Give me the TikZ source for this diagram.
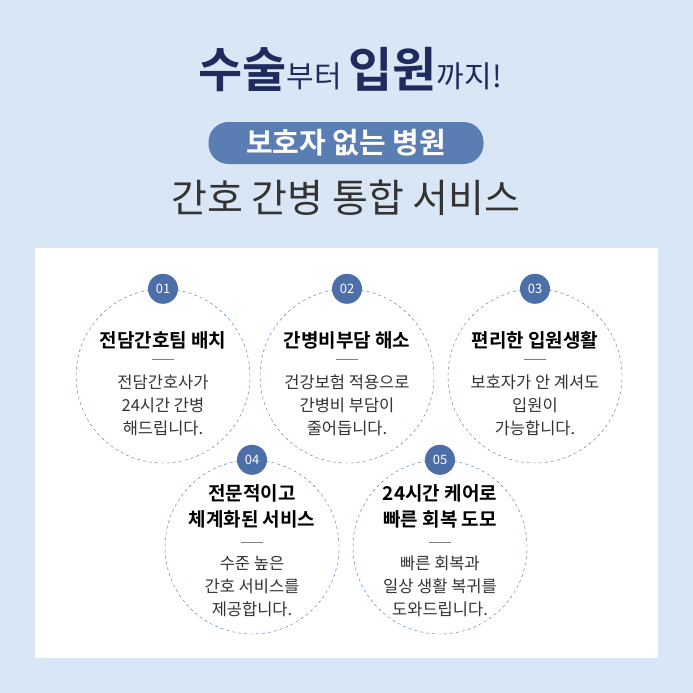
\documentclass[tikz,border=0pt]{standalone}
\usepackage{fontspec}
\setmainfont{Noto Sans CJK KR}
\newfontfamily\krbold{Noto Sans CJK KR Bold}
\usetikzlibrary{positioning}
\definecolor{bgblue}{HTML}{D9E6F5}
\definecolor{navy}{HTML}{1F2B5C}
\definecolor{pillblue}{HTML}{5A7DB3}
\definecolor{dashblue}{HTML}{4C6FA8}
\definecolor{txtgray}{HTML}{333333}
\tikzset{
  ring/.style={circle, draw=dashblue, dashed, thin, fill=white, minimum size=174pt},
  badge/.style={circle, fill=dashblue, minimum size=30pt, inner sep=0pt, text=white, font=\fontsize{13}{13}\selectfont},
  headtext/.style={align=center, text=black, font=\krbold\fontsize{19}{26}\selectfont},
  desctext/.style={align=center, text=txtgray, font=\fontsize{16.5}{23}\selectfont}
}
\begin{document}
\begin{tikzpicture}[x=1pt,y=-1pt]
\fill[bgblue] (0,0) rectangle (693,693);
\fill[white] (35,248) rectangle (658,658);
% title
\node (title) at (350,70) {\color{navy}{\krbold\fontsize{48}{48}\selectfont 수술}{\fontsize{30}{30}\selectfont 부터 }{\krbold\fontsize{48}{48}\selectfont 입원}{\fontsize{30}{30}\selectfont 까지!}};
\node (pill) [fill=pillblue, rounded corners=20pt, minimum width=275pt, minimum height=42pt, text=white, font=\krbold\fontsize{29}{29}\selectfont] at (346,143) {보호자 없는 병원};
\node (sub) [text=txtgray, font=\fontsize{39}{39}\selectfont] at (346,198) {간호 간병 통합 서비스};
% circles
\foreach \name/\x/\y/\num in {one/163/376/01, two/347/376/02, three/535/376/03, four/252/547/04, five/440/547/05}{
  \node (\name) [ring] at (\x,\y) {};
  \node (\name-num) [badge] at (\name.north) {\num};
}
\foreach \name/\head/\desc in {
  one/{전담간호팀 배치}/{전담간호사가\\24시간 간병\\해드립니다.},
  two/{간병비부담 해소}/{건강보험 적용으로\\간병비 부담이\\줄어듭니다.},
  three/{편리한 입원생활}/{보호자가 안 계셔도\\입원이\\가능합니다.}}{
  \node (\name-head) [headtext] at ([yshift=36pt]\name.center) {\head};
  \draw[gray] ([xshift=-11pt,yshift=17pt]\name.center) -- ([xshift=11pt,yshift=17pt]\name.center);
  \node (\name-desc) [desctext] at ([yshift=-29pt]\name.center) {\desc};
}
\foreach \name/\head/\desc in {
  four/{전문적이고\\체계화된 서비스}/{수준 높은\\간호 서비스를\\제공합니다.},
  five/{24시간 케어로\\빠른 회복 도모}/{빠른 회복과\\일상 생활 복귀를\\도와드립니다.}}{
  \node (\name-head) [headtext] at ([yshift=41pt]\name.center) {\head};
  \draw[gray] ([xshift=-11pt,yshift=5pt]\name.center) -- ([xshift=11pt,yshift=5pt]\name.center);
  \node (\name-desc) [desctext] at ([yshift=-39pt]\name.center) {\desc};
}
\end{tikzpicture}
\end{document}
